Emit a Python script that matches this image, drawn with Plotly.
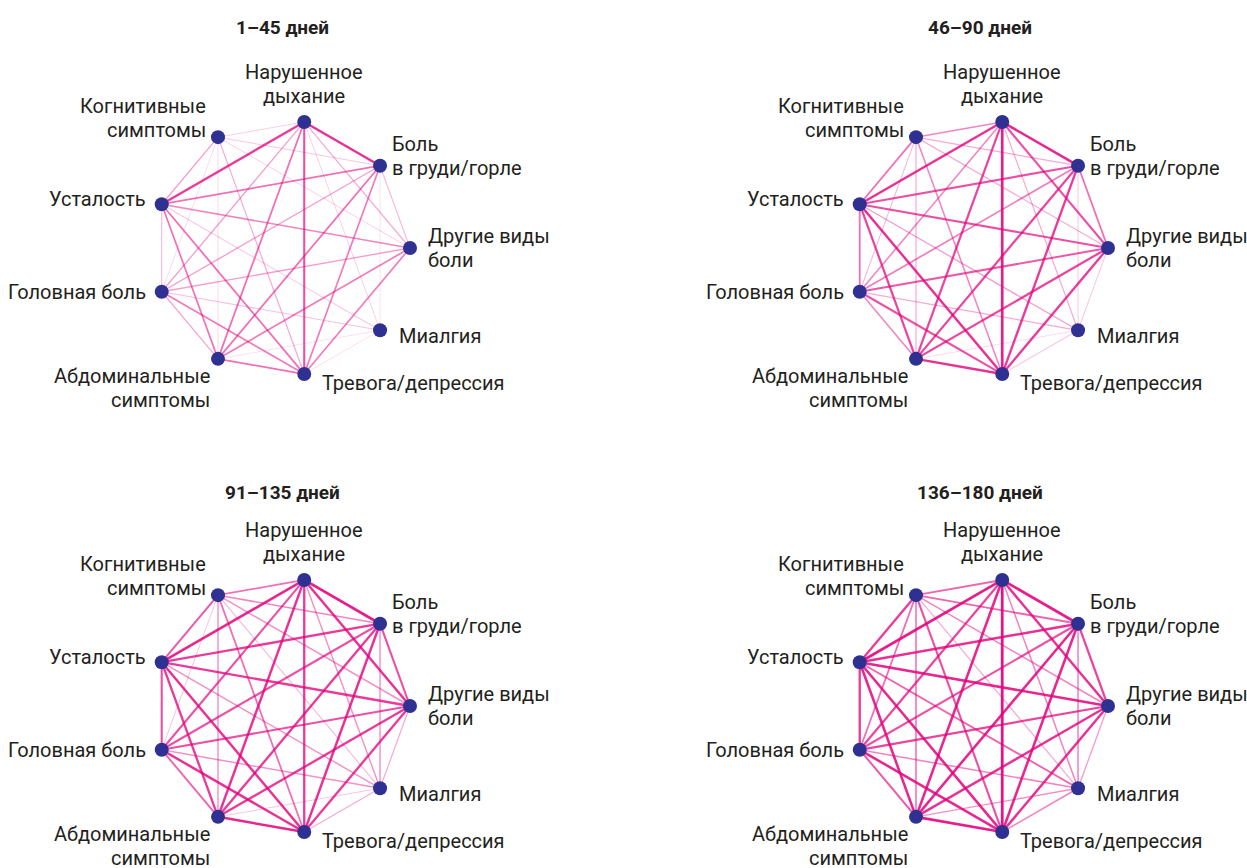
import math
import plotly.graph_objects as go

# Symptoms, clockwise from the top of each ring
symptoms = [
    ["Нарушенное", "дыхание"],
    ["Боль", "в груди/горле"],
    ["Другие виды", "боли"],
    ["Миалгия"],
    ["Тревога/депрессия"],
    ["Абдоминальные", "симптомы"],
    ["Головная боль"],
    ["Усталость"],
    ["Когнитивные", "симптомы"],
]
short = ["N", "B", "D", "M", "T", "A", "G", "U", "K"]

periods = ["1–45 дней", "46–90 дней", "91–135 дней", "136–180 дней"]

# Co-occurrence strength (0..1) for every pair of symptoms, one table per period
pairs = ["N-B", "N-D", "N-M", "N-T", "N-A", "N-G", "N-U", "N-K",
         "B-D", "B-M", "B-T", "B-A", "B-G", "B-U", "B-K",
         "D-M", "D-T", "D-A", "D-G", "D-U", "D-K",
         "M-T", "M-A", "M-G", "M-U", "M-K",
         "T-A", "T-G", "T-U", "T-K",
         "A-G", "A-U", "A-K",
         "G-U", "G-K",
         "U-K"]

w_1_45 = [0.75, 0.20, 0.08, 0.60, 0.45, 0.25, 0.70, 0.08,
          0.15, 0.04, 0.40, 0.45, 0.25, 0.45, 0.10,
          0.00, 0.40, 0.40, 0.25, 0.35, 0.08,
          0.04, 0.04, 0.12, 0.10, 0.00,
          0.45, 0.40, 0.45, 0.20,
          0.22, 0.42, 0.05,
          0.15, 0.05,
          0.25]
w_46_90 = [0.80, 0.60, 0.20, 0.85, 0.65, 0.35, 0.75, 0.35,
           0.45, 0.10, 0.70, 0.65, 0.40, 0.60, 0.20,
           0.10, 0.70, 0.65, 0.55, 0.60, 0.20,
           0.10, 0.05, 0.20, 0.25, 0.00,
           0.75, 0.60, 0.75, 0.35,
           0.35, 0.65, 0.20,
           0.45, 0.15,
           0.45]
w_91_135 = [0.85, 0.75, 0.30, 0.70, 0.75, 0.60, 0.80, 0.45,
            0.60, 0.30, 0.75, 0.70, 0.60, 0.70, 0.35,
            0.20, 0.70, 0.70, 0.60, 0.70, 0.30,
            0.20, 0.10, 0.30, 0.30, 0.15,
            0.80, 0.75, 0.75, 0.45,
            0.50, 0.70, 0.30,
            0.60, 0.10,
            0.55]
w_136_180 = [0.85, 0.75, 0.35, 0.90, 0.80, 0.65, 0.85, 0.50,
             0.65, 0.35, 0.80, 0.80, 0.60, 0.75, 0.50,
             0.25, 0.75, 0.75, 0.65, 0.80, 0.35,
             0.35, 0.30, 0.35, 0.50, 0.20,
             0.85, 0.80, 0.80, 0.60,
             0.55, 0.80, 0.40,
             0.70, 0.45,
             0.70]
weights = [w_1_45, w_46_90, w_91_135, w_136_180]

# Label placement around each node: (xanchor, xshift px, yshift px of first line)
label_pos = [
    ("center", 0, 50),
    ("left", 10, 22),
    ("left", 16, 12),
    ("left", 17, -6),
    ("left", 16, -9),
    ("right", -6, -17),
    ("right", -14, 0),
    ("right", -14, 5),
    ("right", -10, 31),
]
LINE_H = 24

W, H = 1247, 868
R_PX = 128                     # ring radius in pixels
HALF_W, HALF_H = 250, 150      # half size of each panel's plotting box in pixels
centers = [(282, 248), (980, 248), (282, 706), (980, 706)]

FONT = "Liberation Sans Narrow, Arial Narrow, Roboto, sans-serif"
NODE_COLOR = "#2E3192"
EDGE_RGB = (228, 0, 124)

angles = [math.radians(10 + 40 * k) for k in range(len(symptoms))]
node_x = [math.sin(a) for a in angles]
node_y = [math.cos(a) for a in angles]

fig = go.Figure()
layout_axes = {}
annotations = []

for p, (cx, cy) in enumerate(centers):
    sfx = "" if p == 0 else str(p + 1)
    xa, ya = "x" + sfx, "y" + sfx
    layout_axes["xaxis" + sfx] = dict(
        domain=[(cx - HALF_W) / W, (cx + HALF_W) / W],
        range=[-HALF_W / R_PX, HALF_W / R_PX],
        visible=False, fixedrange=True, anchor=ya)
    layout_axes["yaxis" + sfx] = dict(
        domain=[(H - cy - HALF_H) / H, (H - cy + HALF_H) / H],
        range=[-HALF_H / R_PX, HALF_H / R_PX],
        visible=False, fixedrange=True, anchor=xa)

    # edges, weakest first so the strong ones sit on top
    edges = sorted(zip(pairs, weights[p]), key=lambda e: e[1])
    for name, w in edges:
        if w <= 0:
            continue
        a, b = name.split("-")
        i, j = short.index(a), short.index(b)
        alpha = 0.08 + 0.92 * w ** 0.8
        fig.add_trace(go.Scatter(
            x=[node_x[i], node_x[j]], y=[node_y[i], node_y[j]],
            mode="lines", xaxis=xa, yaxis=ya,
            line=dict(color="rgba(%d,%d,%d,%.3f)" % (EDGE_RGB + (alpha,)),
                      width=0.8 + 2.2 * w),
            hoverinfo="skip", showlegend=False))

    fig.add_trace(go.Scatter(
        x=node_x, y=node_y, mode="markers", xaxis=xa, yaxis=ya,
        marker=dict(size=14, color=NODE_COLOR),
        hoverinfo="skip", showlegend=False))

    for k, lines in enumerate(symptoms):
        anchor, xs, ys = label_pos[k]
        for li, txt in enumerate(lines):
            annotations.append(dict(
                x=node_x[k], y=node_y[k], xref=xa, yref=ya,
                text=txt, showarrow=False, xanchor=anchor, yanchor="middle",
                xshift=xs, yshift=ys - li * LINE_H,
                font=dict(family=FONT, size=20, color="#231F20")))

    annotations.append(dict(
        x=cx / W, y=(H - 27) / H if cy < H / 2 else (H - 492) / H,
        xref="paper", yref="paper", text="<b>%s</b>" % periods[p],
        showarrow=False, xanchor="center", yanchor="middle",
        font=dict(family=FONT, size=19, color="#231F20")))

fig.update_layout(
    width=W, height=H, margin=dict(l=0, r=0, t=0, b=0),
    paper_bgcolor="white", plot_bgcolor="white",
    annotations=annotations, showlegend=False, **layout_axes)

fig.write_html("out.html")
